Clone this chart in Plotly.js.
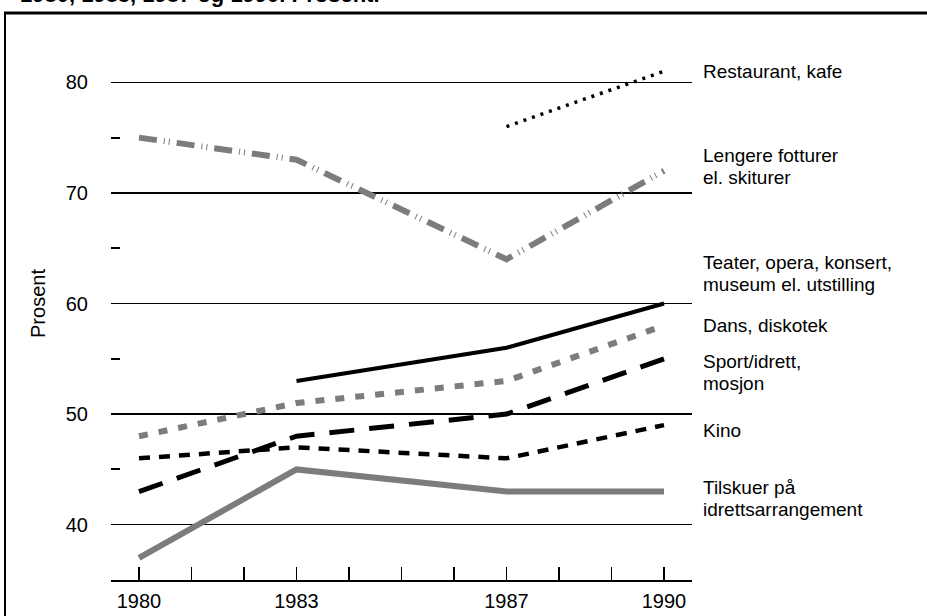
<!DOCTYPE html>
<html>
<head>
<meta charset="utf-8">
<script src="https://cdn.plot.ly/plotly-3.0.1.min.js"></script>
<style>
  html, body { margin: 0; padding: 0; background: #fff; }
  #chart { width: 927px; height: 616px; }
</style>
</head>
<body>
<div id="chart"></div>
<script>
// ---- data ----
const years = [1980, 1983, 1987, 1990];
const restaurant = [null, null, 76, 81];
const fotturer = [75, 73, 64, 72];
const teater = [null, 53, 56, 60];
const dans = [48, 51, 53, 58];
const sport = [43, 48, 50, 55];
const kino = [46, 47, 46, 49];
const tilskuer = [37, 45, 43, 43];

const xTickVals = [1980, 1981, 1982, 1983, 1984, 1985, 1986, 1987, 1988, 1989, 1990];
const xTickText = ['1980', '', '', '1983', '', '', '', '1987', '', '', '1990'];
const yTickVals = [40, 50, 60, 70, 80];
const yTickText = ['40', '50', '60', '70', '80'];

const labelLines = [
  ['Restaurant, kafe'],
  ['Lengere fotturer', 'el. skiturer'],
  ['Teater, opera, konsert,', 'museum el. utstilling'],
  ['Dans, diskotek'],
  ['Sport/idrett,', 'mosjon'],
  ['Kino'],
  ['Tilskuer på', 'idrettsarrangement']
];
const titleText = '1980, 1983, 1987 og 1990. Prosent.';
const yTitle = 'Prosent';

// ---- layout geometry ----
const W = 927, H = 616;
const M = { l: 111, r: 235, t: 27, b: 36 };
const PW = W - M.l - M.r, PH = H - M.t - M.b;
const px = X => (X - M.l) / PW;
const py = Y => (H - M.b - Y) / PH;

const FONT = "'Liberation Sans Narrow', 'Arial Narrow', 'Liberation Sans', Arial, sans-serif";
const GRAY = '#7c7c7c';

function tr(y, color, width, dash) {
  return { x: years, y: y, type: 'scatter', mode: 'lines', connectgaps: false,
    line: { color: color, width: width, dash: dash }, hoverinfo: 'skip', showlegend: false };
}

const data = [
  tr(tilskuer, GRAY, 6, 'solid'),
  tr(kino, '#000', 4.5, '11px,9px'),
  tr(sport, '#000', 5, '25px,15px'),
  tr(dans, GRAY, 6, '9px,11px'),
  tr(teater, '#000', 4, 'solid'),
  tr(fotturer, GRAY, 6, '18px,7px,1px,4px,1px,7px'),
  tr(restaurant, '#000', 3.5, '3px,6px')
];

// label line centers (pixel y)
const labelY = [[72], [155, 177], [262, 284], [326], [361, 383], [430], [487, 509]];
const annotations = [];
labelLines.forEach((lines, i) => {
  lines.forEach((t, j) => {
    annotations.push({ text: t, xref: 'paper', yref: 'paper', x: px(701), y: py(labelY[i][j]),
      xanchor: 'left', yanchor: 'middle', showarrow: false, align: 'left',
      font: { family: FONT, size: 19, color: '#000' } });
  });
});
annotations.push({ text: '<b>' + titleText + '</b>', xref: 'paper', yref: 'paper',
  x: px(18), y: py(9), xanchor: 'left', yanchor: 'bottom', showarrow: false,
  font: { family: "'Liberation Sans', Arial, sans-serif", size: 22, color: '#000' } });

const layout = {
  width: W, height: H,
  margin: M,
  paper_bgcolor: '#fff', plot_bgcolor: '#fff',
  font: { family: FONT, size: 20, color: '#000' },
  showlegend: false,
  xaxis: {
    range: [1980 - 28 / 52.5, 1990 + 28 / 52.5],
    tickmode: 'array', tickvals: xTickVals, ticktext: xTickText,
    ticks: 'inside', ticklen: 13, tickwidth: 1.5, tickcolor: '#000',
    showline: true, linecolor: '#000', linewidth: 2,
    showgrid: false, zeroline: false, fixedrange: true,
    ticklabelstandoff: 2,
    tickfont: { family: FONT, size: 20, color: '#000' }
  },
  yaxis: {
    range: [35, 35 + PH / 11.06],
    tickmode: 'array', tickvals: yTickVals, ticktext: yTickText,
    ticks: '', showline: false, zeroline: false,
    showgrid: true, gridcolor: '#000', gridwidth: 1.5,
    minor: { tickvals: [45, 55, 65, 75], ticks: 'inside', ticklen: 9, tickwidth: 2, tickcolor: '#000', showgrid: false },
    ticklabelstandoff: 22,
    tickfont: { family: FONT, size: 20, color: '#000' },
    title: { text: yTitle, font: { family: FONT, size: 20, color: '#000' }, standoff: 14 },
    fixedrange: true
  },
  shapes: [
    { type: 'line', xref: 'paper', yref: 'paper', x0: px(5), x1: px(5), y0: py(H + 5), y1: py(12),
      line: { color: '#000', width: 2 } },
    { type: 'line', xref: 'paper', yref: 'paper', x0: px(4), x1: px(W + 5), y0: py(13), y1: py(13),
      line: { color: '#000', width: 3 } }
  ],
  annotations: annotations
};

Plotly.newPlot('chart', data, layout, { staticPlot: true, displayModeBar: false });
</script>
</body>
</html>
